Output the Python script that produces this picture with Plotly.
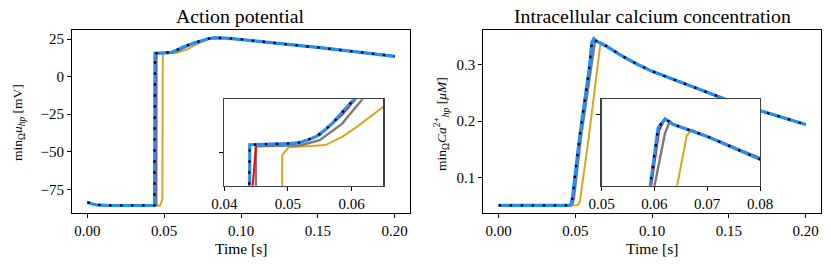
import plotly.graph_objects as go

# ---------------- data: action potential (mV) ----------------
ap_rest_t = [0, 0.002, 0.004, 0.006, 0.008, 0.01, 0.015, 0.02, 0.03, 0.04]
ap_rest_v = [-83.7, -84.5, -85.0, -85.4, -85.6, -85.7, -85.8, -85.8, -85.8, -85.8]

ap_tail_t = [0.079, 0.083, 0.087, 0.09, 0.10, 0.11, 0.12, 0.13, 0.14, 0.15, 0.16, 0.17, 0.18, 0.19, 0.20]
ap_tail_v = [25.3, 25.8, 25.8, 25.6, 24.7, 23.5, 22.4, 21.4, 20.4, 19.4, 18.3, 17.2, 16.0, 14.8, 13.5]

ap_blue_t = [0.0437, 0.0440, 0.046, 0.048, 0.050, 0.0518, 0.053, 0.0544, 0.0557, 0.057, 0.0585, 0.0601, 0.0616, 0.065, 0.07, 0.075]
ap_blue_v = [-85.7, 15.55, 15.58, 15.6, 15.63, 15.7, 15.85, 16.09, 16.5, 16.99, 17.75, 18.55, 19.3, 20.8, 22.6, 24.0]

ap_red_t = [0.0441, 0.0444, 0.0450, 0.048, 0.0518, 0.055, 0.0585, 0.0605, 0.065, 0.07, 0.075]
ap_red_v = [-85.7, 12.5, 15.55, 15.58, 15.66, 16.2, 17.55, 18.55, 20.65, 22.5, 23.95]

ap_gray_t = [0.0449, 0.04497, 0.048, 0.052, 0.055, 0.0585, 0.0616, 0.065, 0.07, 0.075]
ap_gray_v = [-85.7, 15.45, 15.48, 15.52, 15.85, 16.95, 18.55, 20.3, 22.3, 23.75]

ap_gold_t = [0.0473, 0.0488, 0.0491, 0.0501, 0.053, 0.0559, 0.0586, 0.061, 0.065, 0.07, 0.075]
ap_gold_v = [-85.8, -82.0, 14.85, 15.38, 15.45, 15.53, 16.09, 16.8, 18.1, 20.9, 23.2]

# ---------------- data: calcium (uM) ----------------
ca_rest_t = [0, 0.01, 0.02, 0.03, 0.04]
ca_rest_v = [0.05, 0.05, 0.05, 0.05, 0.05]

ca_tail_t = [0.0635, 0.07, 0.08, 0.09, 0.10, 0.11, 0.12, 0.13, 0.14, 0.15, 0.16, 0.17, 0.18, 0.19, 0.20]
ca_tail_v = [0.3425, 0.3335, 0.3165, 0.3015, 0.2885, 0.278, 0.268, 0.257, 0.246, 0.2365, 0.227, 0.219, 0.2105, 0.202, 0.194]

ca_blue_t = [0.046, 0.047, 0.048, 0.0528, 0.0592, 0.0607, 0.062]
ca_blue_v = [0.05, 0.052, 0.062, 0.173, 0.297, 0.34, 0.3465]

ca_red_t = [0.0463, 0.0473, 0.0483, 0.0531, 0.0594, 0.0609, 0.062]
ca_red_v = [0.05, 0.052, 0.062, 0.173, 0.297, 0.338, 0.3465]

ca_gray_t = [0.047, 0.048, 0.049, 0.0537, 0.0601, 0.062, 0.0629]
ca_gray_v = [0.05, 0.052, 0.062, 0.173, 0.297, 0.336, 0.3445]

ca_gold_t = [0.05, 0.051, 0.052, 0.053, 0.0588, 0.0643, 0.0661, 0.0671]
ca_gold_v = [0.05, 0.0505, 0.052, 0.058, 0.173, 0.297, 0.334, 0.3385]

x_ticks = [0.0, 0.05, 0.10, 0.15, 0.20]
x_ticklabels = ["0.00", "0.05", "0.10", "0.15", "0.20"]
ap_yticks = [-75, -50, -25, 0, 25]
ca_yticks = [0.1, 0.2, 0.3]
ca_yticklabels = ["0.1", "0.2", "0.3"]
ap_inset_xticks = [0.04, 0.05, 0.06]
ap_inset_xticklabels = ["0.04", "0.05", "0.06"]
ca_inset_xticks = [0.05, 0.06, 0.07, 0.08]
ca_inset_xticklabels = ["0.05", "0.06", "0.07", "0.08"]

# ---------------- styles ----------------
W, H = 831, 267
FONT = "Liberation Serif"
styles = [
    ("gold", "#DAA520", 2.0, "solid"),
    ("gray", "#7a7a7a", 2.4, "solid"),
    ("red", "#ff0000", 2.0, "solid"),
    ("blue", "#1E90FF", 3.2, "solid"),
    ("ref", "#000000", 2.3, "2.5px,8.5px"),
]


def series(kind, which):
    if kind == "ap":
        rest_t, rest_v, tail_t, tail_v = ap_rest_t, ap_rest_v, ap_tail_t, ap_tail_v
        d = {"blue": (ap_blue_t, ap_blue_v), "red": (ap_red_t, ap_red_v),
             "gray": (ap_gray_t, ap_gray_v), "gold": (ap_gold_t, ap_gold_v),
             "ref": (ap_blue_t, ap_blue_v)}
    else:
        rest_t, rest_v, tail_t, tail_v = ca_rest_t, ca_rest_v, ca_tail_t, ca_tail_v
        d = {"blue": (ca_blue_t, ca_blue_v), "red": (ca_red_t, ca_red_v),
             "gray": (ca_gray_t, ca_gray_v), "gold": (ca_gold_t, ca_gold_v),
             "ref": (ca_blue_t, ca_blue_v)}
    t, v = d[which]
    if kind == "ca" and which == "gold":
        keep = [i for i, tt in enumerate(tail_t) if tt >= 0.07]
        return rest_t + t + [tail_t[i] for i in keep], rest_v + v + [tail_v[i] for i in keep]
    return rest_t + t + tail_t, rest_v + v + tail_v


fig = go.Figure()


def px_x(a, b):
    return [a / W, b / W]


def px_y(top, bottom):
    return [1 - bottom / H, 1 - top / H]


axes = {
    "ap_main": ("x", "y"),
    "ca_main": ("x2", "y2"),
    "ap_ins": ("x3", "y3"),
    "ca_ins": ("x4", "y4"),
}
ranges = {
    "ap_ins": ([0.04, 0.065], [12.8, 18.6]),
    "ca_ins": ([0.05, 0.08], [0.297, 0.361]),
}

# white backgrounds for insets (hide main curves underneath)
for key, (rx, ry) in ranges.items():
    xa, ya = axes[key]
    fig.add_trace(go.Scatter(x=[rx[0], rx[1], rx[1], rx[0], rx[0]],
                             y=[ry[0], ry[0], ry[1], ry[1], ry[0]],
                             fill="toself", fillcolor="white", mode="none",
                             xaxis=xa, yaxis=ya, hoverinfo="skip", showlegend=False))

for key in ["ap_main", "ca_main", "ap_ins", "ca_ins"]:
    kind = "ap" if key.startswith("ap") else "ca"
    xa, ya = axes[key]
    for name, color, width, dash in styles:
        t, v = series(kind, name)
        fig.add_trace(go.Scatter(x=t, y=v, mode="lines", xaxis=xa, yaxis=ya,
                                 line=dict(color=color, width=width, dash=dash),
                                 showlegend=False, hoverinfo="skip"))

tickfont = dict(family=FONT, size=15, color="black")
common = dict(showline=True, linecolor="black", linewidth=1, mirror=True,
              ticks="outside", ticklen=4, tickwidth=1, tickcolor="black",
              showgrid=False, zeroline=False, tickfont=tickfont, automargin=False)
ins_common = dict(common)
ins_common.update(linecolor="#404040", linewidth=1.3)

fig.update_layout(
    template="none",
    width=W, height=H, margin=dict(l=0, r=0, t=0, b=0, pad=0), autosize=False,
    paper_bgcolor="white", plot_bgcolor="white", showlegend=False,
    xaxis=dict(domain=px_x(72, 410), range=[-0.01, 0.21], tickvals=x_ticks, ticktext=x_ticklabels, anchor="y", **common),
    yaxis=dict(domain=px_y(30, 213.3), range=[-91.0, 31.0], tickvals=ap_yticks, anchor="x", **common),
    xaxis2=dict(domain=px_x(483.3, 821), range=[-0.01, 0.21], tickvals=x_ticks, ticktext=x_ticklabels, anchor="y2", **common),
    yaxis2=dict(domain=px_y(30, 213.3), range=[0.036, 0.362], tickvals=ca_yticks, ticktext=ca_yticklabels, anchor="x2", **common),
    xaxis3=dict(domain=px_x(224.3, 383.3), range=ranges["ap_ins"][0], tickvals=ap_inset_xticks, ticktext=ap_inset_xticklabels, anchor="y3", **ins_common),
    yaxis3=dict(domain=px_y(99.3, 185.7), range=ranges["ap_ins"][1], tickvals=[15], showticklabels=False, anchor="x3", **ins_common),
    xaxis4=dict(domain=px_x(601.7, 760), range=ranges["ca_ins"][0], tickvals=ca_inset_xticks, ticktext=ca_inset_xticklabels, anchor="y4", **ins_common),
    yaxis4=dict(domain=px_y(99.3, 185.7), range=ranges["ca_ins"][1], tickvals=[0.35], showticklabels=False, anchor="x4", **ins_common),
)

ann_font = dict(family=FONT, size=15.5, color="black")
ylab_font = dict(family=FONT, size=13.5, color="black")
title_font = dict(family=FONT, size=19.8, color="black")
annotations = [
    dict(text="Action potential", x=241 / W, y=1 - 16 / H, font=title_font),
    dict(text="Intracellular calcium concentration", x=652 / W, y=1 - 16 / H, font=title_font),
    dict(text="Time [s]", x=241 / W, y=1 - 248 / H, font=ann_font),
    dict(text="Time [s]", x=652 / W, y=1 - 248 / H, font=ann_font),
    dict(text="min<sub>Ω</sub><i>u<sub>hp</sub></i> [mV]", x=18 / W, y=1 - 123 / H, font=ylab_font, textangle=-90),
    dict(text="min<sub>Ω</sub><i>Ca</i><sup>2+</sup><i><sub>hp</sub></i> [<i>μM</i>]", x=441 / W, y=1 - 124 / H, font=ylab_font, textangle=-90),
]
for a in annotations:
    a.update(xref="paper", yref="paper", showarrow=False, xanchor="center", yanchor="middle")
fig.update_layout(annotations=annotations)

fig.write_html("out.html", config={"displayModeBar": False, "staticPlot": True},
               post_script="document.body.style.margin='0px';")
